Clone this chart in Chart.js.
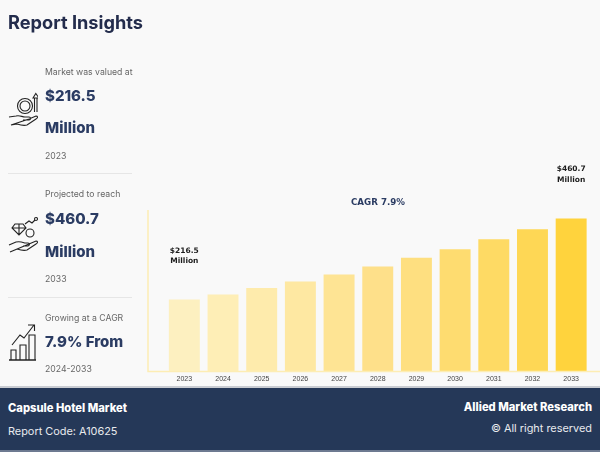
<!DOCTYPE html>
<html>
<head>
<meta charset="utf-8">
<title>Capsule Hotel Market</title>
<script src="https://cdn.jsdelivr.net/npm/chart.js@4"></script>
<style>
    html, body { margin: 0; padding: 0; background: #f9f9f9; }
    #page { position: relative; width: 600px; height: 452px; overflow: hidden; font-family: Inter, sans-serif; }
    #graf { position: absolute; left: 0; top: 0; width: 600px; height: 452px; }
    .txt { position: absolute; white-space: nowrap; line-height: 1; transform: translateY(-50%); }
    .titulo { font-size: 18.2px; font-weight: 700; color: #232c4c; }
    .small { font-size: 8.7px; color: #666; }
    .big { font-size: 15px; font-weight: 800; color: #2b3c63; }
    .cagr { font-family: "DejaVu Sans"; font-size: 8.7px; font-weight: 700; color: #2b3c63; transform: translate(-50%, -50%); }
    .sep { position: absolute; left: 8px; width: 124px; height: 1px; background: #e6e6e6; }
    #pie { position: absolute; left: 0; top: 388px; width: 600px; height: 62px; background: #253858; }
    #tope { position: absolute; left: 0; top: 386px; width: 600px; height: 2px; background: #c9ccd2; }
    #base { position: absolute; left: 0; top: 450px; width: 600px; height: 2px; background: #6d7a91; }
    .pie1 { font-size: 11.2px; font-weight: 800; color: #fff; }
    .pie2 { font-size: 10.9px; color: #e8eaee; }
    .der { right: 8px; }
    svg.ico { position: absolute; fill: none; stroke: #222; stroke-width: 1.1; }
</style>
</head>
<body>
<div id="page">
    <canvas id="graf"></canvas>

    <div class="txt titulo" style="left:8px;top:22px">Report Insights</div>

    <div class="txt small" style="left:45px;top:71.500px">Market was valued at</div>
    <div class="txt big" style="left:45px;top:95px">$216.5</div>
    <div class="txt big" style="left:45px;top:127px">Million</div>
    <div class="txt small" style="left:45px;top:155.500px">2023</div>
    <div class="sep" style="top:173px"></div>

    <div class="txt small" style="left:45px;top:193.500px">Projected to reach</div>
    <div class="txt big" style="left:45px;top:218px">$460.7</div>
    <div class="txt big" style="left:45px;top:251px">Million</div>
    <div class="txt small" style="left:45px;top:278.500px">2033</div>
    <div class="sep" style="top:297px"></div>

    <div class="txt small" style="left:45px;top:317.500px">Growing at a CAGR</div>
    <div class="txt big" style="left:45px;top:341px">7.9% From</div>
    <div class="txt small" style="left:45px;top:368.500px">2024-2033</div>

    <!-- iconos -->
    <svg class="ico" style="left:8px;top:92px" width="30" height="40" viewBox="0 0 30 40">
        <circle cx="17" cy="14" r="7.500"/><circle cx="17" cy="14" r="5"/>
        <path d="M26.500 20V6M29 20V6M25 6l2.800-4.500L31 6z"/>
        <path d="M1 25l7-1c4-1 6 1 9 1h4c2 0 2 3 0 3h-6M21 27l7-3c2 0 2 2 0 3l-9 6c-3 1-7 0-10-1l-6 1z"/>
    </svg>
    <svg class="ico" style="left:8px;top:215px" width="30" height="40" viewBox="0 0 30 40">
        <path d="M7 9h8l3 4-7 7-7-7zM4 13h14M11 9v11"/>
        <circle cx="22" cy="18" r="4"/>
        <path d="M17 9l4-3 3 2 3-3"/><circle cx="28" cy="4" r="1.500"/>
        <path d="M1 30l7-3c4-1 6 0 9 1h3c2 0 2 2 0 3h-5M21 29l7-3c2 0 2 2 0 3l-9 6c-3 1-7 0-10-1l-7 3z"/>
    </svg>
    <svg class="ico" style="left:8px;top:323px" width="30" height="40" viewBox="0 0 30 40">
        <path d="M1 37h27" stroke-width="1.500"/>
        <path d="M3 37v-10h5v10M12 37V22h6v15M21 37V12h6v25"/>
        <path d="M4 22l8-10 4 3 10-13M20 2h6.500v6"/>
    </svg>

    <div class="txt cagr" style="left:378px;top:202px">CAGR 7.9%</div>

    <div id="tope"></div>
    <div id="pie"></div>
    <div id="base"></div>
    <div class="txt pie1" style="left:8px;top:409px">Capsule Hotel Market</div>
    <div class="txt pie2" style="left:8px;top:431px">Report Code: A10625</div>
    <div class="txt pie1 der" style="top:408px">Allied Market Research</div>
    <div class="txt pie2 der" style="top:428px">© All right reserved</div>
</div>

<script>
// Datos
const years = ["2023", "2024", "2025", "2026", "2027", "2028", "2029", "2030", "2031", "2032", "2033"];
const marketValues = [216.5, 232, 251, 271, 292, 316, 342, 368, 398, 428, 460.7];
const barLabels = { 0: ["$216.5", "Million"], 10: ["$460.7", "Million"] };
const barColors = ["#FDF0C0", "#FEEEB6", "#FEEBAC", "#FEE8A2", "#FEE494", "#FEE08A", "#FEDF80", "#FEDC70", "#FEDA64", "#FED755", "#FFD33D"];

// Ejes claros que sobresalen del area de barras y etiquetas de valor
const extras = {
    id: "extras",
    afterDatasetsDraw(chart) {
        const { ctx, chartArea } = chart;
        const axisX = chartArea.left - 17;

        ctx.save();
        ctx.strokeStyle = "#FDEDB4";
        ctx.lineWidth = 1.5;
        ctx.beginPath();
        ctx.moveTo(axisX, chartArea.top);
        ctx.lineTo(axisX, chartArea.bottom);
        ctx.lineTo(600, chartArea.bottom);
        ctx.stroke();

        ctx.fillStyle = "#1c1c1c";
        ctx.font = "bold 7.5px 'DejaVu Sans'";
        ctx.textAlign = "center";
        ctx.textBaseline = "middle";
        chart.getDatasetMeta(0).data.forEach((bar, i) => {
            if (!barLabels[i]) return;
            ctx.fillText(barLabels[i][0], bar.x, bar.y - 49);
            ctx.fillText(barLabels[i][1], bar.x, bar.y - 38.5);
        });
        ctx.restore();
    }
};

new Chart(document.getElementById("graf"), {
    type: "bar",
    data: {
        labels: years,
        datasets: [{
            data: marketValues,
            backgroundColor: barColors,
            barPercentage: 0.8,
            categoryPercentage: 1
        }]
    },
    options: {
        responsive: true,
        maintainAspectRatio: false,
        animation: false,
        layout: { padding: { left: 165, right: 9.5, top: 210, bottom: 0 } },
        scales: {
            x: {
                grid: { display: false, drawTicks: false },
                border: { display: false },
                afterFit(scale) { scale.height = 80.5; },
                ticks: {
                    color: "#444",
                    font: { family: "Liberation Sans", size: 7 },
                    padding: 3,
                    maxRotation: 0
                }
            },
            y: { display: false, min: 0, max: 486 }
        },
        plugins: {
            legend: { display: false },
            tooltip: { enabled: false }
        }
    },
    plugins: [extras]
});
</script>
</body>
</html>
